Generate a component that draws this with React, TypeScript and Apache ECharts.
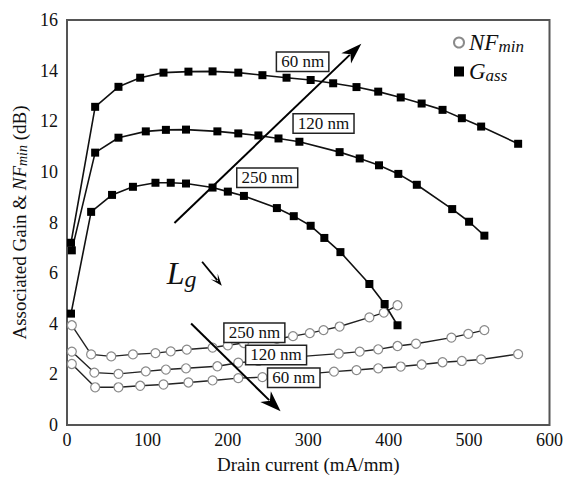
import React, { useEffect, useRef } from "react";
import * as echarts from "echarts";

// ---- data (drain current mA/mm, dB) ----
const gassX60 = [5, 35, 64, 91, 120, 151, 181, 213, 243, 273, 303, 331, 360, 387, 415, 441, 467, 491, 515, 561];
const gass60 = [7.2, 12.57, 13.36, 13.72, 13.92, 13.96, 13.97, 13.92, 13.82, 13.72, 13.63, 13.5, 13.35, 13.17, 12.94, 12.7, 12.45, 12.12, 11.79, 11.11];

const gassX120 = [6, 35, 64, 98, 123, 148, 187, 213, 238, 263, 289, 339, 364, 388, 412, 435, 479, 500, 519];
const gass120 = [6.9, 10.76, 11.35, 11.6, 11.66, 11.67, 11.6, 11.52, 11.44, 11.32, 11.19, 10.78, 10.53, 10.26, 9.92, 9.49, 8.53, 8.03, 7.48];

const gassX250 = [5, 30, 56, 82, 110, 129, 148, 181, 200, 220, 261, 282, 303, 320, 340, 376, 395, 411];
const gass250 = [4.4, 8.42, 9.09, 9.41, 9.57, 9.57, 9.54, 9.38, 9.22, 9.05, 8.57, 8.25, 7.87, 7.39, 6.83, 5.57, 4.78, 3.94];

const nfX250 = [6, 30, 55, 82, 110, 129, 149, 181, 200, 220, 261, 281, 302, 319, 339, 376, 394, 411];
const nf250 = [3.94, 2.79, 2.71, 2.79, 2.84, 2.91, 2.98, 3.06, 3.15, 3.24, 3.4, 3.51, 3.63, 3.75, 3.89, 4.25, 4.44, 4.73];

const nfX120 = [6, 34, 64, 98, 123, 148, 187, 213, 238, 263, 289, 338, 364, 387, 411, 434, 478, 499, 519];
const nf120 = [2.9, 2.07, 2.02, 2.12, 2.19, 2.24, 2.32, 2.46, 2.53, 2.62, 2.7, 2.82, 2.9, 2.99, 3.12, 3.21, 3.45, 3.6, 3.75];

const nfX60 = [6, 35, 64, 91, 120, 151, 181, 213, 243, 273, 303, 332, 360, 387, 415, 441, 467, 491, 515, 561];
const nf60 = [2.41, 1.49, 1.49, 1.55, 1.6, 1.68, 1.76, 1.85, 1.89, 1.95, 2.03, 2.11, 2.17, 2.24, 2.31, 2.39, 2.48, 2.53, 2.59, 2.8];

// annotation labels in data coordinates
const labelTexts = ["60 nm", "120 nm", "250 nm", "250 nm", "120 nm", "60 nm"];
const labelPos = [
  [293, 14.35],
  [319, 11.91],
  [249, 9.77],
  [233, 3.64],
  [260, 2.77],
  [282, 1.87],
];
// arrows in data coordinates [from, to]
const arrowUp = [[133.6, 7.98], [366, 15.06]];
const arrowDown = [[154.3, 4.01], [265.6, 0.54]];
const arrowSmall = [[168, 6.45], [192.5, 5.5]];
const lgPos = [124, 6.0];

const FONT = "Liberation Serif";

const zip = (xs: number[], ys: number[]) => xs.map((x, i) => [x, ys[i]]);

export default function App() {
  const ref = useRef<HTMLDivElement>(null);
  useEffect(() => {
    if (!ref.current) return;
    const chart = echarts.init(ref.current, undefined, { renderer: "svg" });

    const gassSeries = (data: number[][]) => ({
      type: "line",
      name: "Gass",
      data,
      symbol: "rect",
      symbolSize: 8,
      lineStyle: { color: "#111", width: 1.6 },
      itemStyle: { color: "#000" },
      z: 3,
    });
    const nfSeries = (data: number[][]) => ({
      type: "line",
      name: "NFmin",
      data,
      symbol: "circle",
      symbolSize: 9,
      lineStyle: { color: "#222", width: 1.4 },
      itemStyle: { color: "#fff", borderColor: "#8a8a8a", borderWidth: 1.2 },
      z: 2,
    });

    chart.setOption({
      animation: false,
      backgroundColor: "#fff",
      grid: {
        left: 67,
        right: 14,
        top: 20,
        bottom: 52,
        show: true,
        borderColor: "#555",
        borderWidth: 2,
        backgroundColor: "transparent",
      },
      legend: {
        orient: "vertical",
        left: 448,
        top: 25,
        itemWidth: 10,
        itemHeight: 10,
        itemGap: 4,
        selectedMode: false,
        data: [
          { name: "NFmin", icon: "circle" },
          { name: "Gass", icon: "rect" },
        ],
        formatter: (name: string) => (name === "NFmin" ? "{a|NF}{b|min}" : "{a|G}{b|ass}"),
        textStyle: {
          rich: {
            a: { fontFamily: FONT, fontStyle: "italic", fontSize: 23, color: "#111", lineHeight: 24 },
            b: { fontFamily: FONT, fontStyle: "italic", fontSize: 17, color: "#111", lineHeight: 24, padding: [8, 0, 0, 0] },
          },
        },
      },
      xAxis: {
        type: "value",
        min: 0,
        max: 600,
        interval: 100,
        name: "Drain current (mA/mm)",
        nameLocation: "middle",
        nameGap: 30,
        nameTextStyle: { fontFamily: FONT, fontSize: 19, color: "#111" },
        axisLine: { show: false },
        axisTick: { show: false },
        splitLine: { show: false },
        axisLabel: { fontFamily: FONT, fontSize: 18, color: "#111", margin: 6 },
      },
      yAxis: {
        type: "value",
        min: 0,
        max: 16,
        interval: 2,
        name: "Associated Gain & {i|NF}{s|min} (dB)",
        nameLocation: "middle",
        nameGap: 33,
        nameTextStyle: {
          fontFamily: FONT,
          fontSize: 19,
          color: "#111",
          rich: {
            i: { fontFamily: FONT, fontSize: 19, fontStyle: "italic", color: "#111" },
            s: { fontFamily: FONT, fontSize: 14, fontStyle: "italic", color: "#111", padding: [6, 0, 0, 0] },
          },
        },
        axisLine: { show: false },
        axisTick: { show: false },
        splitLine: { show: false },
        axisLabel: { fontFamily: FONT, fontSize: 18, color: "#111", margin: 9 },
      },
      series: [
        nfSeries(zip(nfX250, nf250)),
        nfSeries(zip(nfX120, nf120)),
        nfSeries(zip(nfX60, nf60)),
        gassSeries(zip(gassX60, gass60)),
        gassSeries(zip(gassX120, gass120)),
        gassSeries(zip(gassX250, gass250)),
      ],
    });

    const px = (p: number[]) => chart.convertToPixel({ xAxisIndex: 0, yAxisIndex: 0 }, p) as number[];

    const arrow = (a: number[][], headLen: number, headW: number, lw: number) => {
      const p0 = px(a[0]);
      const p1 = px(a[1]);
      const dx = p1[0] - p0[0];
      const dy = p1[1] - p0[1];
      const L = Math.hypot(dx, dy);
      const ux = dx / L;
      const uy = dy / L;
      const bx = p1[0] - ux * headLen;
      const by = p1[1] - uy * headLen;
      const nx = -uy;
      const ny = ux;
      return [
        {
          type: "line",
          z: 100,
          shape: { x1: p0[0], y1: p0[1], x2: bx + ux * 3, y2: by + uy * 3 },
          style: { stroke: "#000", lineWidth: lw },
        },
        {
          type: "polygon",
          z: 100,
          shape: {
            points: [
              [p1[0], p1[1]],
              [bx + (nx * headW) / 2 - ux * 2, by + (ny * headW) / 2 - uy * 2],
              [bx + ux * 4, by + uy * 4],
              [bx - (nx * headW) / 2 - ux * 2, by - (ny * headW) / 2 - uy * 2],
            ],
          },
          style: { fill: "#000" },
        },
      ];
    };

    const labels = labelTexts.map((t, i) => {
      const p = px(labelPos[i]);
      return {
        type: "text",
        z: 101,
        x: p[0],
        y: p[1],
        style: {
          text: t,
          fontFamily: FONT,
          fontSize: 17,
          fill: "#111",
          align: "center",
          verticalAlign: "middle",
          backgroundColor: "#fff",
          borderColor: "#222",
          borderWidth: 1.5,
          padding: [1, 4, 0, 4],
        },
      };
    });

    const lg = px(lgPos);

    chart.setOption({
      graphic: [
        ...arrow(arrowUp, 19, 14, 2),
        ...arrow(arrowDown, 19, 15, 2),
        ...arrow(arrowSmall, 10, 9, 1.8),
        ...labels,
        {
          type: "text",
          z: 101,
          x: lg[0],
          y: lg[1],
          style: {
            text: "{L|L}{g|g}",
            rich: {
              L: { fontFamily: FONT, fontStyle: "italic", fontSize: 32, fill: "#111", lineHeight: 34 },
              g: { fontFamily: FONT, fontStyle: "italic", fontSize: 24, fill: "#111", lineHeight: 34, padding: [12, 0, 0, 0] },
            },
            verticalAlign: "middle",
          },
        },
      ],
    });

    return () => chart.dispose();
  }, []);
  return <div ref={ref} style={{ position: "fixed", left: 0, top: 0, width: 566, height: 479 }} />;
}
